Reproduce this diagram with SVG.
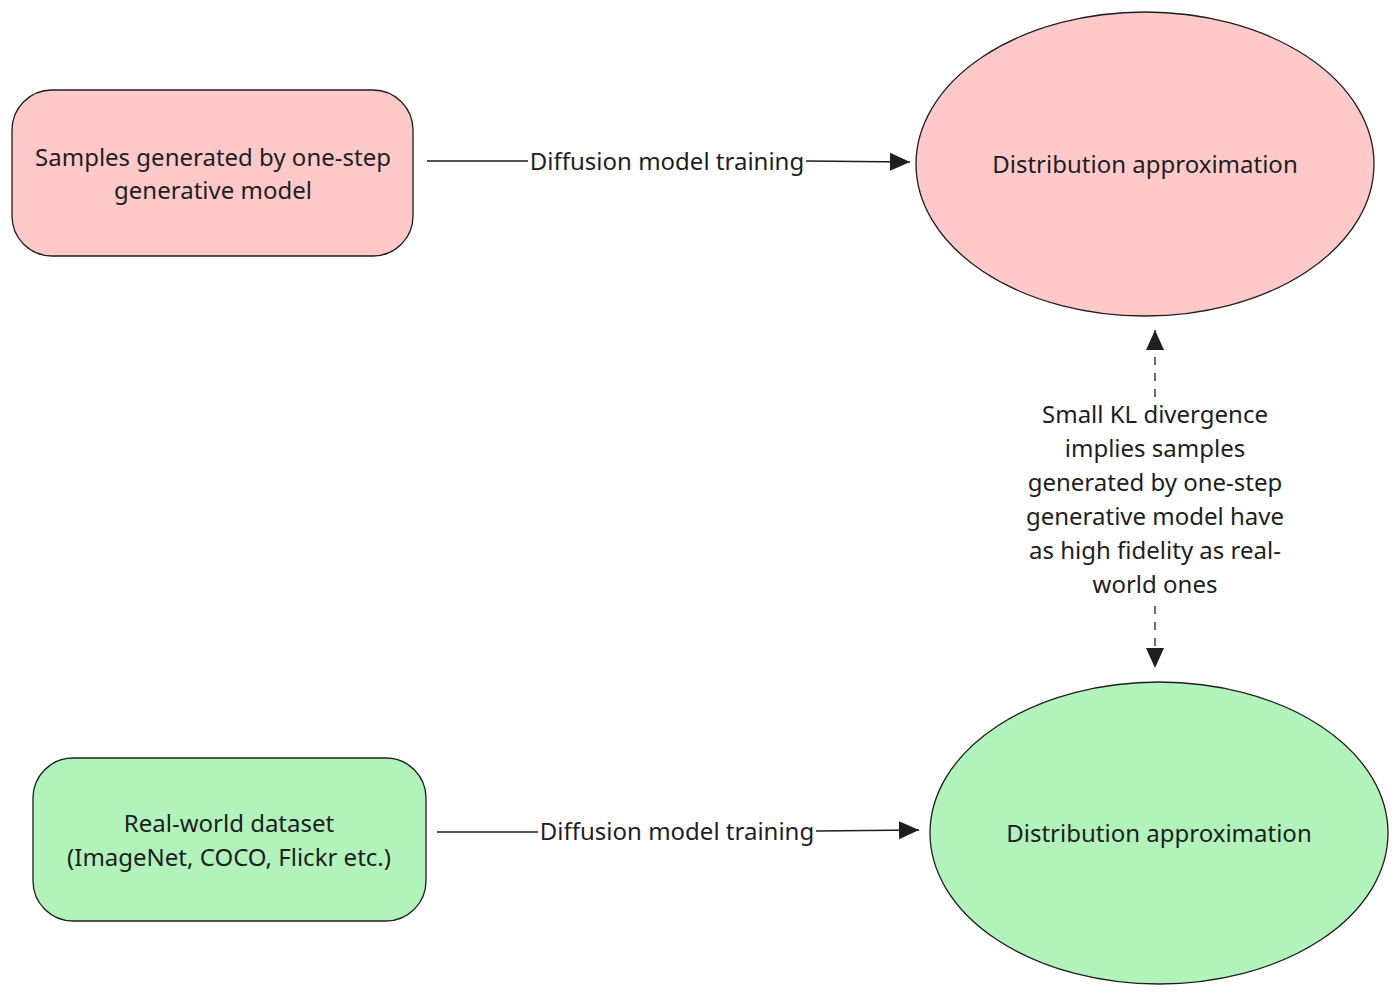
<svg xmlns="http://www.w3.org/2000/svg" width="1400" height="997" viewBox="0 0 1400 997">
<style>
.t{font-family:"Noto Sans","Open Sans",sans-serif;font-size:24px;fill:#1e1e1e;text-anchor:middle;dominant-baseline:central}
.n{stroke:#1e1e1e;stroke-width:1.3}
.c{stroke:#1e1e1e;stroke-width:1.3;fill:none}
</style>
<defs>
<marker id="ah2" viewBox="0 0 20 20" refX="20" refY="10" markerWidth="20" markerHeight="20" markerUnits="userSpaceOnUse" orient="auto-start-reverse">
<path d="M0,1 L20,10 L0,19 Z" fill="#1e1e1e"/>
</marker>
</defs>
<rect width="1400" height="997" fill="#ffffff"/>
<g id="connectors">
<path class="c" d="M427,161 L528,161"/>
<path class="c" d="M806,161 L910,162" marker-end="url(#ah2)"/>
<text class="t" x="667" y="160">Diffusion model training</text>
<path class="c" d="M437,832 L538,832"/>
<path class="c" d="M816,831 L919,830" marker-end="url(#ah2)"/>
<text class="t" x="677" y="830">Diffusion model training</text>
<path class="c" d="M1155,397 L1155,330" stroke-dasharray="8 8" marker-end="url(#ah2)"/>
<path class="c" d="M1155,606 L1155,668" stroke-dasharray="8 8" marker-end="url(#ah2)"/>
<text class="t"><tspan x="1155" y="413">Small KL divergence</tspan><tspan x="1155" y="447">implies samples</tspan><tspan x="1155" y="481">generated by one-step</tspan><tspan x="1155" y="515">generative model have</tspan><tspan x="1155" y="549">as high fidelity as real-</tspan><tspan x="1155" y="583">world ones</tspan></text>
</g>
<g id="node-samples">
<rect class="n" x="12" y="90" width="401" height="166" rx="40" fill="#ffc9c9"/>
<text class="t"><tspan x="213" y="156">Samples generated by one-step</tspan><tspan x="213" y="189">generative model</tspan></text>
</g>
<g id="node-dist-top">
<ellipse class="n" cx="1145" cy="164" rx="229" ry="152" fill="#ffc9c9"/>
<text class="t" x="1145" y="163">Distribution approximation</text>
</g>
<g id="node-real">
<rect class="n" x="33" y="758" width="393" height="163" rx="40" fill="#b2f2bb"/>
<text class="t"><tspan x="229" y="822">Real-world dataset</tspan><tspan x="229" y="856">(ImageNet, COCO, Flickr etc.)</tspan></text>
</g>
<g id="node-dist-bottom">
<ellipse class="n" cx="1159" cy="833" rx="229" ry="151" fill="#b2f2bb"/>
<text class="t" x="1159" y="832">Distribution approximation</text>
</g>
</svg>
